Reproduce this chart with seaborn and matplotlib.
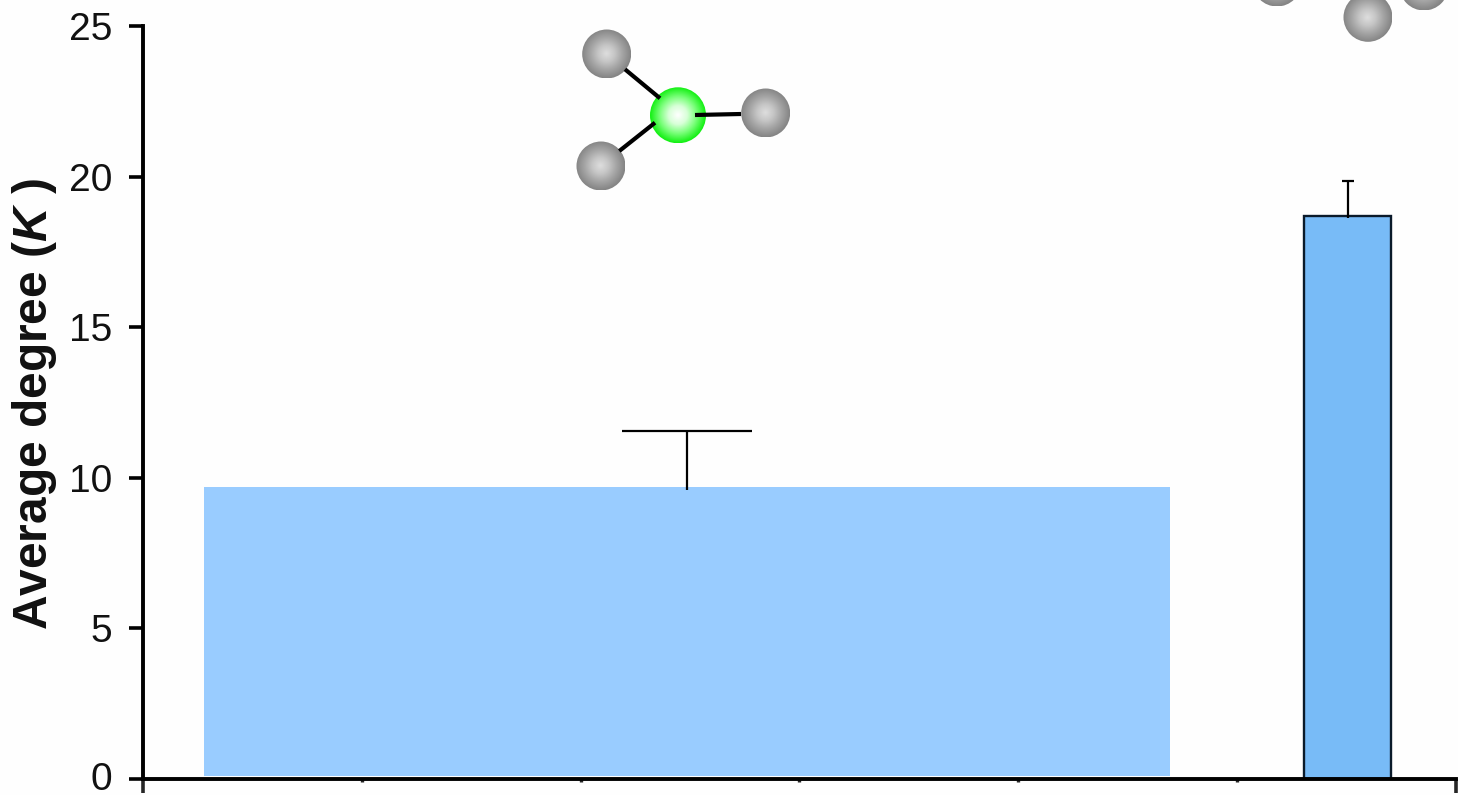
import numpy as np
import matplotlib
matplotlib.use("Agg")
import matplotlib.pyplot as plt
import matplotlib.transforms as mtrans
import seaborn as sns
from matplotlib.colors import LinearSegmentedColormap
from matplotlib.patches import Circle

# ---- values ----
bar_means = [9.69, 18.69]
bar_errors = [1.86, 1.16]
y_tick_values = [0, 5, 10, 15, 20, 25]
y_label = r"Average degree ($\mathbfit{K}$ )"

# ---- layout ----
bar_centers = [1.986, 5.005]
bar_widths = [4.415, 0.397]
bar_colors = ["#99ccff", "#78bbf7"]
bar_edges = ["#99ccff", "#0a1a2a"]
cap_sizes = [46.5, 4.5]
W, H = 1458, 795

sns.set_theme(style="ticks")
plt.rcParams["font.family"] = ["Liberation Sans", "DejaVu Sans"]
plt.rcParams["mathtext.fontset"] = "custom"
plt.rcParams["mathtext.bfit"] = "Liberation Sans:italic:bold"

fig = plt.figure(figsize=(W / 100, H / 100), dpi=100, facecolor="#fefefe")
ax = fig.add_axes([143 / W, (H - 779) / H, (1456 - 143) / W, (779 - 26) / H])
ax.set_facecolor("none")

for i in range(2):
    sns.barplot(x=[bar_centers[i]], y=[bar_means[i]], native_scale=True, width=bar_widths[i],
                color=bar_colors[i], saturation=1, edgecolor=bar_edges[i],
                linewidth=0 if i == 0 else 1.7, errorbar=None, ax=ax, zorder=2)
    eb = ax.errorbar(bar_centers[i], bar_means[i], yerr=[[0.08], [bar_errors[i]]], color="black",
                     elinewidth=1.6, capthick=1.6, capsize=cap_sizes[i], zorder=3)
    eb[1][0].set_visible(False)

# the wide bar stops just short of the axis
ax.patches[0].set_y(0.09)
ax.patches[0].set_height(bar_means[0] - 0.09)

ax.set_xlim(-0.5, 5.5)
ax.set_ylim(0, 25)
ax.set_yticks(y_tick_values)
ax.set_xticks([-0.5, 5.5])
ax.set_xticks([0.5, 1.5, 2.5, 3.5, 4.5], minor=True)
ax.set_xticklabels([])
ax.set_xlabel("")
ax.tick_params(axis="y", labelsize=28, length=10, width=2.6, pad=12, color="black", labelcolor="#111111")
ax.tick_params(axis="x", which="major", length=10, width=2.6)
ax.tick_params(axis="x", which="minor", length=2.5, width=2.4, bottom=True)
for s in ["left", "bottom"]:
    ax.spines[s].set_linewidth(2.8)
    ax.spines[s].set_color("black")
for s in ["top", "right"]:
    ax.spines[s].set_visible(False)

# keep the 0 label inside the picture
zero_label = ax.get_yticklabels()[0]
zero_label.set_transform(zero_label.get_transform() + mtrans.ScaledTranslation(0, 3 / 100, fig.dpi_scale_trans))

fig.text(35 / W, 1 - 404 / H, y_label, rotation=90, ha="center", va="center",
         fontsize=34.5, fontweight="bold", color="#111111")

# ---- molecule sketches, in picture pixels ----
over = fig.add_axes([0, 0, 1, 1], facecolor="none")
over.set_xlim(0, W)
over.set_ylim(H, 0)
over.axis("off")

gray_cmap = LinearSegmentedColormap.from_list("ball", ["#dedede", "#c6c6c6", "#a4a4a4", "#858585"])
green_cmap = LinearSegmentedColormap.from_list("node", ["#ffffff", "#d8ffd8", "#78ff78", "#14f014"])
gx, gy = np.meshgrid(np.linspace(-1, 1, 120), np.linspace(-1, 1, 120))
radial = np.clip(np.hypot(gx, gy), 0, 1)


def ball(cx, cy, r, cmap):
    im = over.imshow(radial, cmap=cmap, vmin=0, vmax=1, extent=(cx - r, cx + r, cy + r, cy - r),
                     interpolation="bilinear", aspect="auto", zorder=2)
    im.set_clip_path(Circle((cx, cy), r, transform=over.transData))


for cx, cy in [(606.7, 54), (601, 166), (765.7, 113), (1368, 17.3), (1277, -18), (1424, -14)]:
    ball(cx, cy, 24.5, gray_cmap)
ball(678, 115.3, 28, green_cmap)

for (x0, y0), (x1, y1) in [((625, 69.3), (660, 98.3)), ((619.3, 151), (655, 122.7)), ((695, 115), (741, 114))]:
    over.plot([x0, x1], [y0, y1], color="black", lw=3, solid_capstyle="butt", zorder=3)
over.set_xlim(0, W)
over.set_ylim(H, 0)

fig.savefig("out.png", dpi=100, facecolor=fig.get_facecolor())
